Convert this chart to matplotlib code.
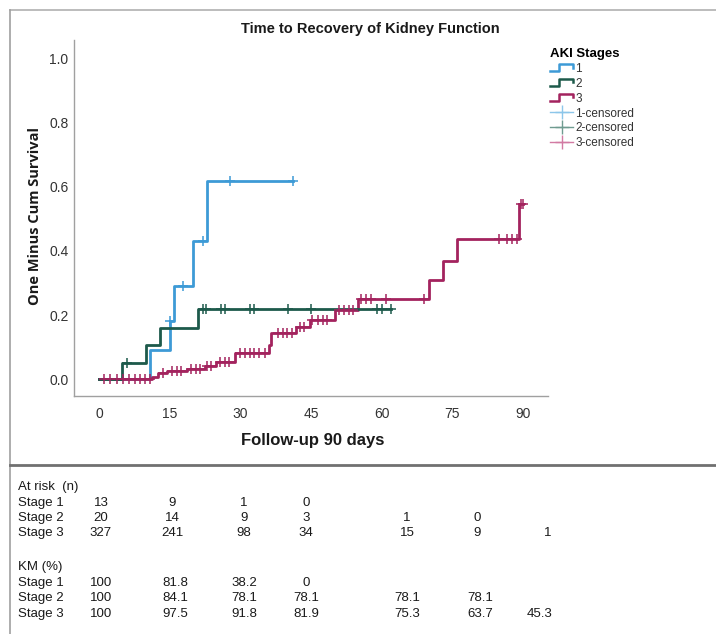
import numpy as np
import matplotlib
matplotlib.use("Agg")
import matplotlib.pyplot as plt
from matplotlib.lines import Line2D
from matplotlib.legend_handler import HandlerBase

# ---------------- data ----------------
s1_times = [0, 10.8, 15.0, 16.0, 20.0, 23.0, 41.2]
s1_vals = [0.0, 0.091, 0.182, 0.29, 0.43, 0.618, 0.618]
s1_cens = [15.0, 17.9, 22.0, 27.9, 41.2]

s2_times = [0, 4.9, 10.0, 13.0, 21.0, 62.0]
s2_vals = [0.0, 0.05, 0.105, 0.159, 0.219, 0.219]
s2_cens = [5.9, 22.0, 22.8, 25.9, 26.8, 32.0, 32.9, 40.1, 45.0, 59.0, 60.0, 62.0]

s3_times = [0, 11.2, 12.5, 14.5, 18.6, 22.5, 24.9, 28.8, 36.0, 36.6, 41.9, 44.7,
            50.0, 55.0, 70.0, 73.0, 76.0, 89.2, 90.0]
s3_vals = [0.0, 0.005, 0.018, 0.025, 0.031, 0.04, 0.054, 0.082, 0.105, 0.143, 0.163,
           0.184, 0.215, 0.25, 0.31, 0.37, 0.437, 0.547, 0.547]
s3_cens = [1.0, 2.3, 3.8, 5.0, 6.4, 7.6, 8.7, 9.7, 10.8, 13.5, 15.5, 16.5, 17.5,
           19.5, 20.5, 21.5, 23.0, 23.8, 25.6, 26.7, 27.7, 29.9, 31.0, 32.0, 33.0,
           34.0, 35.2, 38.0, 39.0, 40.0, 41.0, 42.6, 43.6, 45.3, 46.4, 47.5, 48.5,
           51.0, 52.0, 53.0, 54.0, 55.6, 56.7, 57.8, 61.0, 69.0, 85.0, 86.7, 87.7,
           88.8, 89.6, 90.0]

x_ticks = [0, 15, 30, 45, 60, 75, 90]
y_ticks = [0.0, 0.2, 0.4, 0.6, 0.8, 1.0]

stage_labels = ["1", "2", "3"]
cens_labels = ["1-censored", "2-censored", "3-censored"]

risk_header = "At risk  (n)"
risk_rows = ["Stage 1", "Stage 2", "Stage 3"]
risk_s1 = ["13", "9", "1", "0"]
risk_s2 = ["20", "14", "9", "3", "1", "0"]
risk_s3 = ["327", "241", "98", "34", "15", "9", "1"]

km_header = "KM (%)"
km_s1 = ["100", "81.8", "38.2", "0"]
km_s2 = ["100", "84.1", "78.1", "78.1", "78.1", "78.1"]
km_s3 = ["100", "97.5", "91.8", "81.9", "75.3", "63.7", "45.3"]

# ---------------- style ----------------
colors = ["#3d9ad6", "#1d5a4b", "#a3235e"]
cens_colors = ["#8cc6ea", "#6f9b90", "#d27aa3"]

W, H = 716, 634
fig = plt.figure(figsize=(W / 100, H / 100), dpi=100)
fig.patch.set_facecolor("white")

def fx(px):
    return px / W

def fy(py):
    return 1 - py / H

narrow = ["Liberation Sans Narrow", "Liberation Sans", "DejaVu Sans"]
arial = ["Liberation Sans", "DejaVu Sans"]

ax = fig.add_axes([fx(74), fy(396), fx(548) - fx(74), fy(40) - fy(396)])
ax.set_xlim(-5.3, 95.3)
ax.set_ylim(-0.053, 1.059)

def val_at(times, vals, t):
    idx = np.searchsorted(times, t, side="right") - 1
    return np.asarray(vals)[np.clip(idx, 0, len(vals) - 1)]

series = [(s1_times, s1_vals, s1_cens), (s2_times, s2_vals, s2_cens),
          (s3_times, s3_vals, s3_cens)]
zorders = [3, 4, 3.5]
for i, (t, v, c) in enumerate(series):
    ax.step(t, v, where="post", color=colors[i], lw=2.0, zorder=zorders[i])
    cy = val_at(t, v, np.asarray(c))
    ax.plot(c, cy, linestyle="none", marker="+", markersize=7, mew=1.1,
            color=colors[i], zorder=5)

for s in ["top", "right"]:
    ax.spines[s].set_visible(False)
for s in ["left", "bottom"]:
    ax.spines[s].set_color("#a0a0a0")
    ax.spines[s].set_linewidth(1.0)

ax.set_xticks(x_ticks)
ax.set_xticklabels([str(v) for v in x_ticks])
ax.set_yticks(y_ticks)
ax.set_yticklabels([f"{v:.1f}" for v in y_ticks])
ax.tick_params(axis="x", length=0, labelsize=10, colors="#333333", pad=8)
ax.tick_params(axis="y", length=0, labelsize=10, colors="#333333", pad=4)
for lab in ax.get_xticklabels() + ax.get_yticklabels():
    lab.set_family(arial)

# ---------------- legend ----------------
class HandlerStep(HandlerBase):
    def create_artists(self, legend, orig_handle, xdescent, ydescent, width,
                       height, fontsize, trans):
        x0, y0 = -xdescent, -ydescent
        xs = np.array([0, 0.4, 0.4, 1.0, 1.0]) * width + x0
        ys = np.array([0.05, 0.05, 0.95, 0.95, 0.5]) * height + y0
        ln = Line2D(xs, ys, color=orig_handle.get_color(), lw=1.8)
        ln.set_transform(trans)
        return [ln]

step_handles = [Line2D([0], [0], color=c) for c in colors]
cens_handles = [Line2D([0], [0], color=c, lw=1.0, marker="+", markersize=10, mew=1.0)
                for c in cens_colors]
handler_map = {h: HandlerStep() for h in step_handles}
leg = fig.legend(step_handles + cens_handles, stage_labels + cens_labels,
                 handler_map=handler_map, loc="upper left",
                 bbox_to_anchor=(fx(545), fy(43)), frameon=False,
                 prop={"family": narrow, "size": 8.5}, handlelength=2.0,
                 handletextpad=0.15, labelspacing=0.25, borderaxespad=0,
                 title="AKI Stages",
                 title_fontproperties={"family": arial, "size": 9.5, "weight": "bold"})
leg._legend_box.align = "left"
for txt in leg.get_texts():
    txt.set_color("#333333")

# ---------------- titles ----------------
fig.text(fx(370), fy(29), "Time to Recovery of Kidney Function", ha="center",
         va="center", fontsize=10.5, fontweight="bold", family=arial, color="#1a1a1a")
fig.text(fx(35), fy(216), "One Minus Cum Survival", ha="center", va="center",
         rotation=90, fontsize=10.5, fontweight="bold", family=["Open Sans", "DejaVu Sans"],
         color="#1a1a1a")
fig.text(fx(313), fy(440), "Follow-up 90 days", ha="center", va="center",
         fontsize=12, fontweight="bold", family=arial, color="#1a1a1a")

# ---------------- frame lines ----------------
fig.add_artist(Line2D([fx(10), fx(716)], [fy(10), fy(10)], color="#b0b0b0", lw=1.2))
fig.add_artist(Line2D([fx(10), fx(10)], [fy(10), fy(634)], color="#a0a0a0", lw=1.2))
fig.add_artist(Line2D([fx(10), fx(716)], [fy(465), fy(465)], color="#707070", lw=2.0))

# ---------------- table ----------------
col_x = [101, 172, 244, 306, 407, 477, 548]
km_col_x = [101, 175, 244, 306, 407, 480, 540]
tkw = dict(family=narrow, fontsize=9.5, color="#1a1a1a", va="center")

fig.text(fx(18), fy(487), risk_header, ha="left", **tkw)
for r, (lab, vals, yy) in enumerate(zip(risk_rows, [risk_s1, risk_s2, risk_s3],
                                        [503, 518, 533])):
    fig.text(fx(18), fy(yy), lab, ha="left", **tkw)
    for j, v in enumerate(vals):
        fig.text(fx(col_x[j]), fy(yy), v, ha="center", **tkw)

fig.text(fx(18), fy(567), km_header, ha="left", **tkw)
for r, (lab, vals, yy) in enumerate(zip(risk_rows, [km_s1, km_s2, km_s3],
                                        [583, 598, 614])):
    fig.text(fx(18), fy(yy), lab, ha="left", **tkw)
    for j, v in enumerate(vals):
        fig.text(fx(km_col_x[j]), fy(yy), v, ha="center", **tkw)

fig.savefig("out.png", dpi=100, facecolor="white")
